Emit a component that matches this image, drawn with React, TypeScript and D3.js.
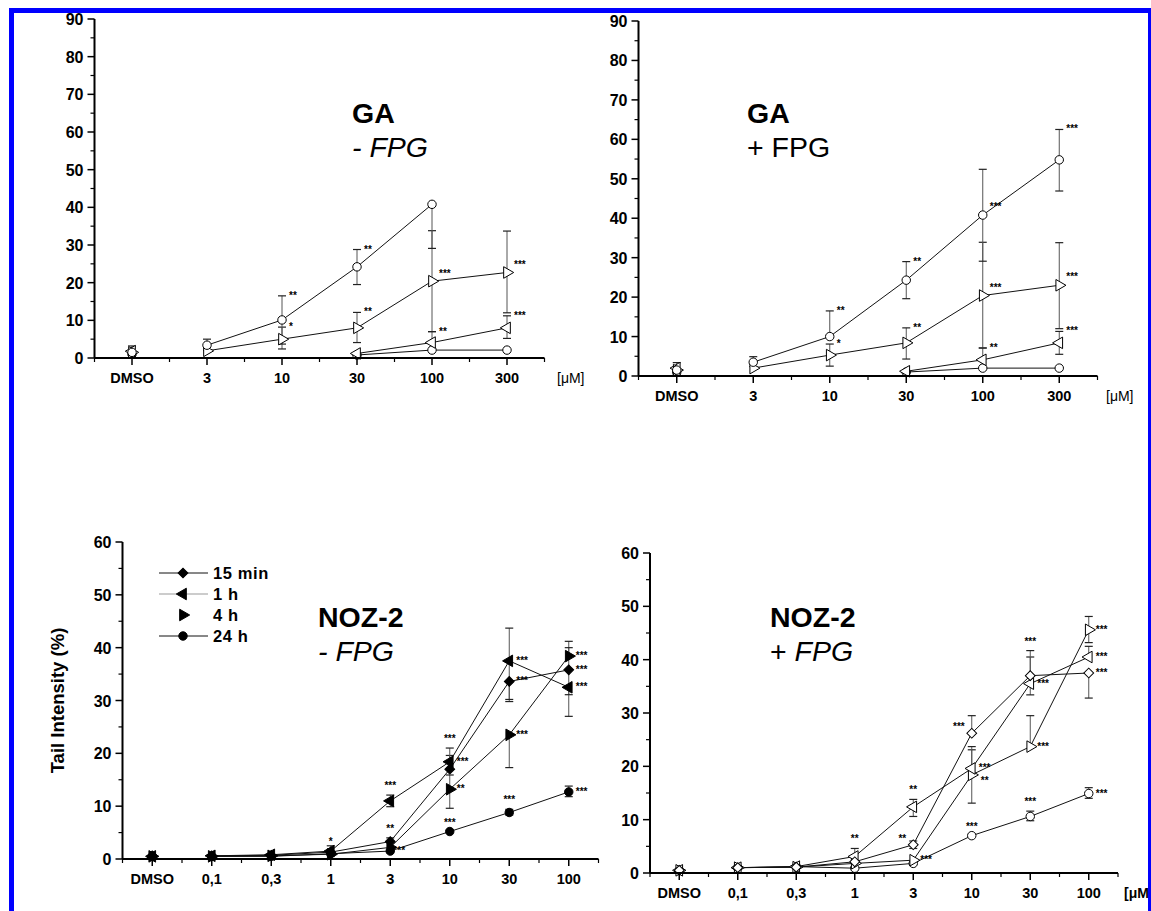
import React from 'react';
import * as d3 from 'd3';

const FONT = '"Liberation Sans", Arial, sans-serif';

// dose categories
const gaDoses = ['DMSO', '3', '10', '30', '100', '300'];
const nozDoses = ['DMSO', '0,1', '0,3', '1', '3', '10', '30', '100'];

// GA - FPG
const gaMinusCircle = [1.5, 3.4, 10.1, 24.2, 40.8, null];
const gaMinusCircleHi = [3.2, 5.0, 16.5, 28.8, null, null];
const gaMinusCircleLo = [0.3, 2.0, 3.7, 19.5, 29.1, null];
const gaMinusCircleStars = ['', '', '**', '**', '', ''];
const gaMinusRight = [1.5, 1.9, 5.0, 8.0, 20.4, 22.7];
const gaMinusRightHi = [null, null, 8.2, 12.1, 33.8, 33.7];
const gaMinusRightLo = [null, null, 2.4, 4.1, 7.0, 12.0];
const gaMinusRightStars = ['', '', '*', '**', '***', '***'];
const gaMinusLeft = [1.8, null, null, 1.2, 4.1, 8.0];
const gaMinusLeftHi = [null, null, null, null, 7.0, 11.2];
const gaMinusLeftLo = [null, null, null, null, null, 5.2];
const gaMinusLeftStars = ['', '', '', '', '**', '***'];
const gaMinusFlat = [1.0, null, null, 0.8, 2.1, 2.1];

// GA + FPG
const gaPlusCircle = [1.5, 3.5, 10.0, 24.3, 40.8, 54.8];
const gaPlusCircleHi = [3.4, 4.9, 16.5, 29.0, 52.4, 62.5];
const gaPlusCircleLo = [0.4, 2.4, null, 19.6, 29.1, 46.9];
const gaPlusCircleStars = ['', '', '**', '**', '***', '***'];
const gaPlusRight = [1.5, 2.0, 5.3, 8.4, 20.4, 23.0];
const gaPlusRightHi = [null, null, 8.1, 12.2, 33.9, 33.8];
const gaPlusRightLo = [null, null, 2.5, 4.3, 7.1, 12.0];
const gaPlusRightStars = ['', '', '*', '**', '***', '***'];
const gaPlusLeft = [2.0, null, null, 1.2, 4.1, 8.4];
const gaPlusLeftHi = [null, null, null, null, 7.1, 11.3];
const gaPlusLeftLo = [null, null, null, null, null, 5.5];
const gaPlusLeftStars = ['', '', '', '', '**', '***'];
const gaPlusFlat = [1.0, null, null, 1.0, 2.0, 2.0];

// NOZ-2 - FPG  (star prefix: ^ above, < left, _ right and lower)
const nozMinus15 = [0.6, 0.6, 0.7, 1.3, 3.3, 17.0, 33.6, 35.8];
const nozMinus15Hi = [null, null, null, 2.5, 4.0, 21.0, null, 40.0];
const nozMinus15Lo = [null, null, null, null, null, null, 30.2, 31.1];
const nozMinus15Stars = ['', '', '', '', '^**', '^***', '***', '***'];
const nozMinus1h = [0.5, 0.6, 0.8, 1.5, 11.0, 18.4, 37.5, 32.5];
const nozMinus1hHi = [null, null, null, null, 12.1, 19.6, 43.7, null];
const nozMinus1hLo = [null, null, null, null, 9.9, null, 29.8, 27.0];
const nozMinus1hStars = ['', '', '', '^*', '^***', '***', '***', '***'];
const nozMinus4h = [0.5, 0.5, 0.6, 0.9, 2.2, 13.2, 23.5, 38.4];
const nozMinus4hHi = [null, null, null, null, null, 15.9, null, 41.2];
const nozMinus4hLo = [null, null, null, null, null, 9.6, 17.3, null];
const nozMinus4hStars = ['', '', '', '', '', '**', '***', '***'];
const nozMinus24h = [0.5, 0.5, 0.5, 1.0, 1.5, 5.2, 8.8, 12.7];
const nozMinus24hHi = [null, null, null, null, null, null, 9.4, 13.8];
const nozMinus24hLo = [null, null, null, null, null, null, 8.3, 11.8];
const nozMinus24hStars = ['', '', '', '', '**', '^***', '^***', '***'];

// NOZ-2 + FPG
const nozPlus15 = [0.5, 1.0, 1.1, 2.1, 5.3, 26.2, 37.0, 37.5];
const nozPlus15Hi = [null, null, null, null, 6.0, 29.5, 41.7, null];
const nozPlus15Lo = [null, null, null, null, 4.6, null, null, 32.8];
const nozPlus15Stars = ['', '', '', '', '<**', '<***', '^***', '***'];
const nozPlus1h = [0.5, 1.0, 1.2, 3.1, 12.4, 19.6, 35.5, 40.5];
const nozPlus1hHi = [null, null, null, 4.6, 13.8, 23.7, 40.5, 42.5];
const nozPlus1hLo = [null, null, null, null, 10.6, null, 33.4, null];
const nozPlus1hStars = ['', '', '', '^**', '^**', '***', '***', '***'];
const nozPlus4h = [0.5, 1.0, 1.1, 1.8, 2.4, 18.4, 23.7, 45.6];
const nozPlus4hHi = [null, null, null, null, null, 23.1, null, 48.1];
const nozPlus4hLo = [null, null, null, null, null, 13.1, 29.5, 43.2];
const nozPlus4hStars = ['', '', '', '', '***', '_**', '***', '***'];
const nozPlus24h = [0.5, 1.0, 1.2, 0.9, 1.8, 7.0, 10.6, 14.9];
const nozPlus24hHi = [null, null, null, null, null, null, 11.6, 16.0];
const nozPlus24hLo = [null, null, null, null, null, null, 9.8, 14.0];
const nozPlus24hStars = ['', '', '', '', '', '^***', '^***', '***'];

const legendLabels = ['15 min', '1 h', '4 h', '24 h'];

const mk = (shape, values, hi = [], lo = [], stars = []) => ({ shape, values, hi, lo, stars });

const panels = [
  {
    key: 'gaMinus', doses: gaDoses, yMax: 90, left: 94.5, right: 544.5, bottom: 358, top: 19,
    filled: false, starsAtCap: true, unitX: 557, unitBold: false,
    titleX: 352, titleY: 123, title: 'GA', sub: [['- FPG', true]],
    series: [
      mk('circle', gaMinusFlat),
      mk('left', gaMinusLeft, gaMinusLeftHi, gaMinusLeftLo, gaMinusLeftStars),
      mk('right', gaMinusRight, gaMinusRightHi, gaMinusRightLo, gaMinusRightStars),
      mk('circle', gaMinusCircle, gaMinusCircleHi, gaMinusCircleLo, gaMinusCircleStars),
    ],
  },
  {
    key: 'gaPlus', doses: gaDoses, yMax: 90, left: 638.5, right: 1097.5, bottom: 376, top: 21,
    filled: false, starsAtCap: true, unitX: 1106, unitBold: false,
    titleX: 747, titleY: 123, title: 'GA', sub: [['+ FPG', false]],
    series: [
      mk('circle', gaPlusFlat),
      mk('left', gaPlusLeft, gaPlusLeftHi, gaPlusLeftLo, gaPlusLeftStars),
      mk('right', gaPlusRight, gaPlusRightHi, gaPlusRightLo, gaPlusRightStars),
      mk('circle', gaPlusCircle, gaPlusCircleHi, gaPlusCircleLo, gaPlusCircleStars),
    ],
  },
  {
    key: 'nozMinus', doses: nozDoses, yMax: 60, left: 122.5, right: 598.5, bottom: 859, top: 542,
    filled: true, starsAtCap: false, unitX: null, unitBold: true,
    titleX: 318, titleY: 627, title: 'NOZ-2', sub: [['- FPG', true]], legend: true,
    series: [
      mk('circle', nozMinus24h, nozMinus24hHi, nozMinus24hLo, nozMinus24hStars),
      mk('right', nozMinus4h, nozMinus4hHi, nozMinus4hLo, nozMinus4hStars),
      mk('left', nozMinus1h, nozMinus1hHi, nozMinus1hLo, nozMinus1hStars),
      mk('diamond', nozMinus15, nozMinus15Hi, nozMinus15Lo, nozMinus15Stars),
    ],
  },
  {
    key: 'nozPlus', doses: nozDoses, yMax: 60, left: 650, right: 1118, bottom: 873, top: 553,
    filled: false, starsAtCap: false, unitX: 1124, unitBold: true,
    titleX: 770, titleY: 627, title: 'NOZ-2', sub: [['+ ', false], ['FPG', true]],
    series: [
      mk('circle', nozPlus24h, nozPlus24hHi, nozPlus24hLo, nozPlus24hStars),
      mk('right', nozPlus4h, nozPlus4hHi, nozPlus4hLo, nozPlus4hStars),
      mk('left', nozPlus1h, nozPlus1hHi, nozPlus1hLo, nozPlus1hStars),
      mk('diamond', nozPlus15, nozPlus15Hi, nozPlus15Lo, nozPlus15Stars),
    ],
  },
];

const symCircle = d3.symbol().type(d3.symbolCircle).size(56)();
const symSquare = d3.symbol().type(d3.symbolSquare).size(48)();
const symTri = d3.symbol().type(d3.symbolTriangle).size(58)();

function Marker({ shape, cx, cy, filled }) {
  let d = symCircle;
  let rot = 0;
  if (shape === 'diamond') { d = symSquare; rot = 45; }
  if (shape === 'left') { d = symTri; rot = -90; }
  if (shape === 'right') { d = symTri; rot = 90; }
  return (
    <path d={d} transform={`translate(${cx},${cy}) rotate(${rot})`}
      fill={filled ? '#000' : '#fff'} stroke="#000" strokeWidth={1} />
  );
}

function Panel({ p }) {
  const n = p.doses.length;
  const x = d3.scaleLinear().domain([-0.5, n - 0.5]).range([p.left, p.right]);
  const y = d3.scaleLinear().domain([0, p.yMax]).range([p.bottom, p.top]);
  const majors = d3.range(0, p.yMax + 1, 10);
  const minors = d3.range(5, p.yMax, 10);
  const xMinors = d3.range(-0.5, n, 1);
  const line = d3.line().defined(d => d[1] != null).x(d => x(d[0])).y(d => y(d[1]));
  const labelY = p.bottom + 25;

  return (
    <g>
      {/* data lines (DMSO not connected) */}
      {p.series.map((s, si) => (
        <path key={'l' + si}
          d={line(s.values.map((v, i) => [i, v]).filter(d => d[0] > 0)) || ''}
          fill="none" stroke="#111" strokeWidth={1} />
      ))}
      {/* error bars */}
      {p.series.map((s, si) => s.values.map((v, i) => {
        if (v == null) return null;
        const hi = s.hi[i], lo = s.lo[i];
        if (hi == null && lo == null) return null;
        const cx = x(i);
        return (
          <g key={`e${si}-${i}`}>
            <line x1={cx} x2={cx} y1={y(hi ?? v)} y2={y(lo ?? v)} stroke="#555" strokeWidth={1} />
            {hi != null && <line x1={cx - 4} x2={cx + 4} y1={y(hi)} y2={y(hi)} stroke="#222" strokeWidth={1.2} />}
            {lo != null && <line x1={cx - 4} x2={cx + 4} y1={y(lo)} y2={y(lo)} stroke="#222" strokeWidth={1.2} />}
          </g>
        );
      }))}
      {/* markers */}
      {p.series.map((s, si) => s.values.map((v, i) => v == null ? null : (
        <Marker key={`m${si}-${i}`} shape={s.shape} cx={x(i)} cy={y(v)} filled={p.filled} />
      )))}
      {/* significance stars */}
      {p.series.map((s, si) => s.values.map((v, i) => {
        const st = s.stars[i];
        if (v == null || !st) return null;
        const hi = s.hi[i];
        let tx = x(i) + 7, ty = y(v) + 3, anchor = 'start', txt = st;
        if (st[0] === '^') {
          txt = st.slice(1); anchor = 'middle'; tx = x(i);
          ty = y(hi ?? v) - 6;
        } else if (st[0] === '<') {
          txt = st.slice(1); anchor = 'end'; tx = x(i) - 7; ty = y(v) - 3;
        } else if (st[0] === '_') {
          txt = st.slice(1); tx = x(i) + 9; ty = y(v) + 9;
        } else if (p.starsAtCap) {
          const sv = hi != null && hi - v < 8 ? hi : v + 2;
          ty = y(sv) + 3;
        }
        return (
          <text key={`s${si}-${i}`} x={tx} y={ty} textAnchor={anchor}
            fontSize={10} fontWeight="bold" fontFamily={FONT}>{txt}</text>
        );
      }))}
      {/* y axis */}
      <line x1={p.left} x2={p.left} y1={p.bottom} y2={p.top} stroke="#000" strokeWidth={2} />
      {majors.map(t => (
        <g key={'yt' + t}>
          <line x1={p.left - 7} x2={p.left} y1={y(t)} y2={y(t)} stroke="#000" strokeWidth={1.5} />
          <text x={p.left - 11} y={y(t) + 6} textAnchor="end" fontSize={16}
            fontWeight="bold" fontFamily={FONT}>{t}</text>
        </g>
      ))}
      {minors.map(t => (
        <line key={'ym' + t} x1={p.left - 4} x2={p.left} y1={y(t)} y2={y(t)} stroke="#000" strokeWidth={1.2} />
      ))}
      {/* x axis */}
      <line x1={p.left} x2={p.right} y1={p.bottom} y2={p.bottom} stroke="#000" strokeWidth={2} />
      {p.doses.map((d, i) => (
        <g key={'xt' + i}>
          <line x1={x(i)} x2={x(i)} y1={p.bottom} y2={p.bottom + 7} stroke="#000" strokeWidth={1.5} />
          <text x={x(i)} y={labelY} textAnchor="middle" fontSize={14.5} fontWeight="bold"
            fontFamily={FONT}>{d}</text>
        </g>
      ))}
      {xMinors.map(t => (
        <line key={'xm' + t} x1={x(t)} x2={x(t)} y1={p.bottom} y2={p.bottom + 4} stroke="#000" strokeWidth={1.2} />
      ))}
      {p.unitX != null && (
        <text x={p.unitX} y={labelY} fontSize={14} fontWeight={p.unitBold ? 'bold' : 'normal'}
          fontFamily={FONT}>[μM]</text>
      )}
      {/* title */}
      <text x={p.titleX} y={p.titleY} fontSize={28.5} fontWeight="bold" fontFamily={FONT}>{p.title}</text>
      <text x={p.titleX} y={p.titleY + 34} fontSize={28.5} fontFamily={FONT}>
        {p.sub.map(([t, it], k) => (
          <tspan key={k} fontStyle={it ? 'italic' : 'normal'}>{t}</tspan>
        ))}
      </text>
      {p.legend && (
        <g>
          {legendLabels.map((lab, k) => {
            const ly = 573 + k * 21;
            const shape = ['diamond', 'left', 'right', 'circle'][k];
            return (
              <g key={'lg' + k}>
                {k !== 2 && (
                  <line x1={159} x2={208} y1={ly} y2={ly} stroke={k === 1 ? '#999' : '#111'} strokeWidth={1} />
                )}
                <Marker shape={shape} cx={183} cy={ly} filled={true} />
                <text x={213} y={ly + 6} fontSize={16.5} fontWeight="bold" fontFamily={FONT}
                  letterSpacing={0.6}>{lab}</text>
              </g>
            );
          })}
          <text transform={`translate(64,${(p.top + p.bottom) / 2}) rotate(-90)`} textAnchor="middle"
            fontSize={18.5} fontWeight="bold" fontFamily={FONT}>Tail Intensity (%)</text>
        </g>
      )}
    </g>
  );
}

export default function App() {
  return (
    <svg width={1151} height={911} style={{ position: 'absolute', left: 0, top: 0, background: '#fff' }}>
      <rect x={0} y={0} width={1151} height={911} fill="#fff" />
      {panels.map(p => <Panel key={p.key} p={p} />)}
      {/* blue frame */}
      <rect x={9} y={8} width={5} height={903} fill="#0000ff" />
      <rect x={9} y={8} width={1142} height={5} fill="#0000ff" />
      <rect x={1148} y={8} width={3} height={903} fill="#0000ff" />
    </svg>
  );
}
